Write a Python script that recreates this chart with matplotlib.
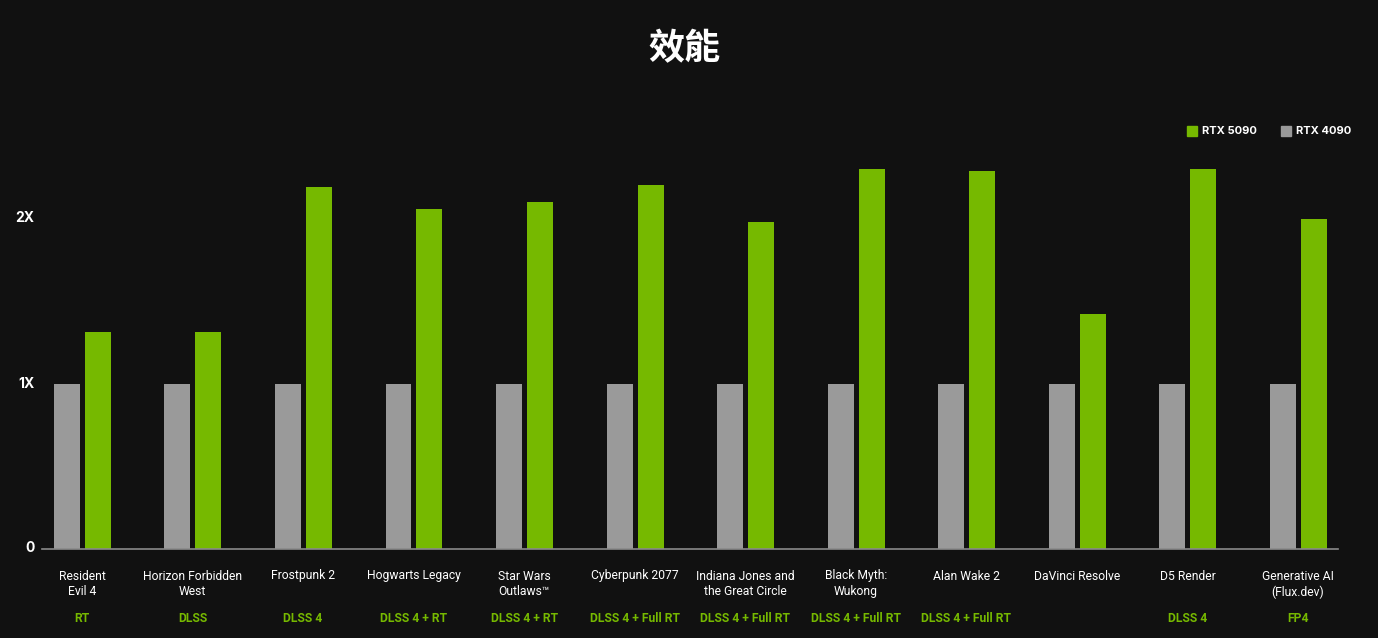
import matplotlib.pyplot as plt
import numpy as np

plt.rcParams['font.family'] = ['Roboto', 'DejaVu Sans']

games = ['Resident\nEvil 4', 'Horizon Forbidden\nWest', 'Frostpunk 2',
         'Hogwarts Legacy', 'Star Wars\nOutlaws\u2122', 'Cyberpunk 2077',
         'Indiana Jones and\nthe Great Circle', 'Black Myth:\nWukong',
         'Alan Wake 2', 'DaVinci Resolve', 'D5 Render',
         'Generative AI\n(Flux.dev)']
settings = ['RT', 'DLSS', 'DLSS 4', 'DLSS 4 + RT', 'DLSS 4 + RT',
            'DLSS 4 + Full RT', 'DLSS 4 + Full RT', 'DLSS 4 + Full RT',
            'DLSS 4 + Full RT', '', 'DLSS 4', 'FP4']
rtx_4090 = [1, 1, 1, 1, 1, 1, 1, 1, 1, 1, 1, 1]
rtx_5090 = [1.31, 1.315, 2.19, 2.06, 2.10, 2.20, 1.98, 2.30, 2.285,
            1.42, 2.30, 2.00]
yticks = [0, 1, 2]
ytick_labels = ['0', '1X', '2X']

bg = '#111111'
green = '#76b900'
gray = '#9a9a9a'

fig = plt.figure(figsize=(13.78, 6.38), dpi=100, facecolor=bg)
ax = fig.add_axes([42 / 1378, 89.5 / 638, 1296 / 1378, 430 / 638])
ax.set_facecolor(bg)

x = np.arange(len(games))
w = 0.235
ax.bar(x - 0.137, rtx_4090, w, color=gray, label='RTX 4090')
ax.bar(x + 0.143, rtx_5090, w, color=green, label='RTX 5090')

ax.set_xlim(-0.362, len(games) - 1 + 0.362)
ax.set_ylim(0, 430 / 165)

for s in ['top', 'right', 'left']:
    ax.spines[s].set_visible(False)
ax.spines['bottom'].set_color('#8a8a8a')
ax.spines['bottom'].set_linewidth(1.2)

ax.set_xticks([])
ax.set_yticks([])
for v, t in zip(yticks, ytick_labels):
    ax.text(-0.43, v, t, ha='right', va='center', color='white',
            fontsize=10, fontweight='bold', family=['Inter', 'DejaVu Sans'])

for i, (g, s) in enumerate(zip(games, settings)):
    ax.annotate(g, (i, 0), xytext=(0, -21), textcoords='offset pixels',
                ha='center', va='top', color='white', fontsize=8.7,
                linespacing=1.25)
    if s:
        ax.annotate(s, (i, 0), xytext=(0, -63), textcoords='offset pixels',
                    ha='center', va='top', color=green, fontsize=8.7,
                    fontweight='bold')

# legend drawn by hand, green first
for lx, col, lab in [(1187, green, 'RTX 5090'), (1281, gray, 'RTX 4090')]:
    fig.patches.append(plt.Rectangle((lx / 1378, (638 - 136) / 638),
                                     10 / 1378, 10 / 638, color=col,
                                     transform=fig.transFigure))
    fig.text((lx + 15) / 1378, (638 - 131) / 638, lab, color='white',
             fontsize=8, fontweight='bold', va='center', ha='left',
             family=['Inter', 'DejaVu Sans'])

fig.text(685 / 1378, (638 - 49) / 638, '效能', color='white', fontsize=26,
         fontweight='bold', ha='center', va='center',
         family=['Noto Sans CJK TC', 'DejaVu Sans'])

fig.savefig('out.png', dpi=100, facecolor=bg)
